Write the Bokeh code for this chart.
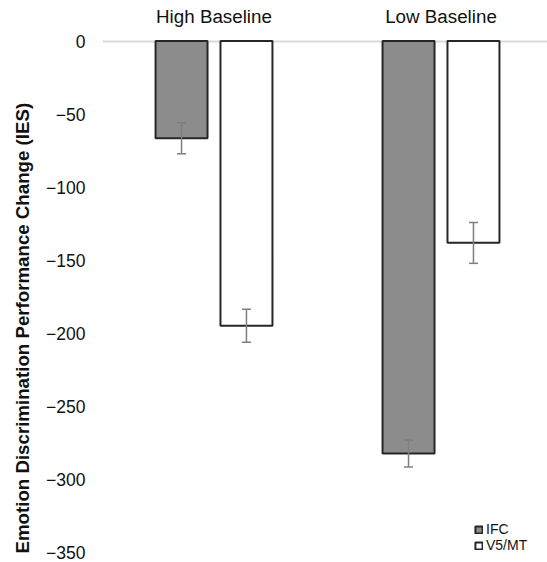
from bokeh.plotting import figure
from bokeh.models import (ColumnDataSource, Range1d, FixedTicker, Whisker, TeeHead,
                          Legend, LegendItem, Title)
from bokeh.embed import file_html
from bokeh.resources import INLINE

# ---- data ----
groups = ["High Baseline", "Low Baseline"]
series = ["IFC", "V5/MT"]
ifc_vals = [-66.5, -282.0]
ifc_err = [10.6, 9.2]
v5_vals = [-194.7, -138.0]
v5_err = [11.3, 14.0]
y_ticks = [0, -50, -100, -150, -200, -250, -300, -350]
y_label = "Emotion Discrimination Performance Change (IES)"

FONT = "Liberation Sans"
centers = [i + 0.5 for i in range(len(groups))]
offset = 0.143
bar_w = 0.229

p = figure(width=547, height=562, output_backend="svg", toolbar_location=None,
           x_range=Range1d(2 / 227, 447 / 227), y_range=Range1d(-356.5, 1.71),
           min_border_left=102, min_border_right=0, min_border_top=38, min_border_bottom=0,
           x_axis_location="above")
p.outline_line_color = None
p.background_fill_color = "white"
p.xgrid.grid_line_color = None
p.ygrid.ticker = FixedTicker(ticks=[0])
p.ygrid.grid_line_color = "#d9d9d9"
p.ygrid.grid_line_width = 2


def make_src(vals, errs, sign):
    return ColumnDataSource(dict(
        x=[c + sign * offset for c in centers],
        val=vals,
        up=[v + e for v, e in zip(vals, errs)],
        lo=[v - e for v, e in zip(vals, errs)],
    ))


src_ifc = make_src(ifc_vals, ifc_err, -1)
src_v5 = make_src(v5_vals, v5_err, 1)

r1 = p.vbar(x="x", top=0, bottom="val", width=bar_w, source=src_ifc,
            fill_color="#8c8c8c", line_color="#262626", line_width=2)
r2 = p.vbar(x="x", top=0, bottom="val", width=bar_w, source=src_v5,
            fill_color="white", line_color="#262626", line_width=2)

for src in (src_ifc, src_v5):
    w = Whisker(base="x", upper="up", lower="lo", source=src,
                upper_head=TeeHead(size=9, line_color="#7f7f7f", line_width=1.5),
                lower_head=TeeHead(size=9, line_color="#7f7f7f", line_width=1.5),
                line_color="#7f7f7f", line_width=1.5, level="overlay")
    p.add_layout(w)

# y axis
yax = p.yaxis[0]
yax.ticker = FixedTicker(ticks=y_ticks)
yax.axis_line_color = None
yax.major_tick_line_color = None
yax.minor_tick_line_color = None
yax.major_label_standoff = 11
yax.major_label_text_font = FONT
yax.major_label_text_font_size = "17.5px"
yax.major_label_text_color = "#111111"

# x axis (top)
xax = p.xaxis[0]
xax.ticker = FixedTicker(ticks=centers)
xax.major_label_overrides = {c: g for c, g in zip(centers, groups)}
xax.axis_line_color = None
xax.major_tick_line_color = None
xax.minor_tick_line_color = None
xax.major_tick_out = 0
xax.major_label_standoff = 12
xax.major_label_text_font = FONT
xax.major_label_text_font_size = "18.8px"
xax.major_label_text_color = "#111111"

# y label as a left title
t = Title(text=y_label, align="left", offset=9, vertical_align="middle",
          text_font=FONT, text_font_size="18.7px", text_font_style="bold",
          text_color="#111111", standoff=20)
p.add_layout(t, "left")

legend = Legend(items=[LegendItem(label=series[0], renderers=[r1]),
                       LegendItem(label=series[1], renderers=[r2])],
                location=(372, 9), padding=0, margin=0, spacing=0,
                glyph_width=9, glyph_height=9, label_height=11, label_standoff=3,
                label_text_font=FONT, label_text_font_size="14px",
                label_text_color="#111111",
                border_line_color=None, background_fill_alpha=0)
p.add_layout(legend)

open("out.html", "w").write(file_html(p, INLINE))
